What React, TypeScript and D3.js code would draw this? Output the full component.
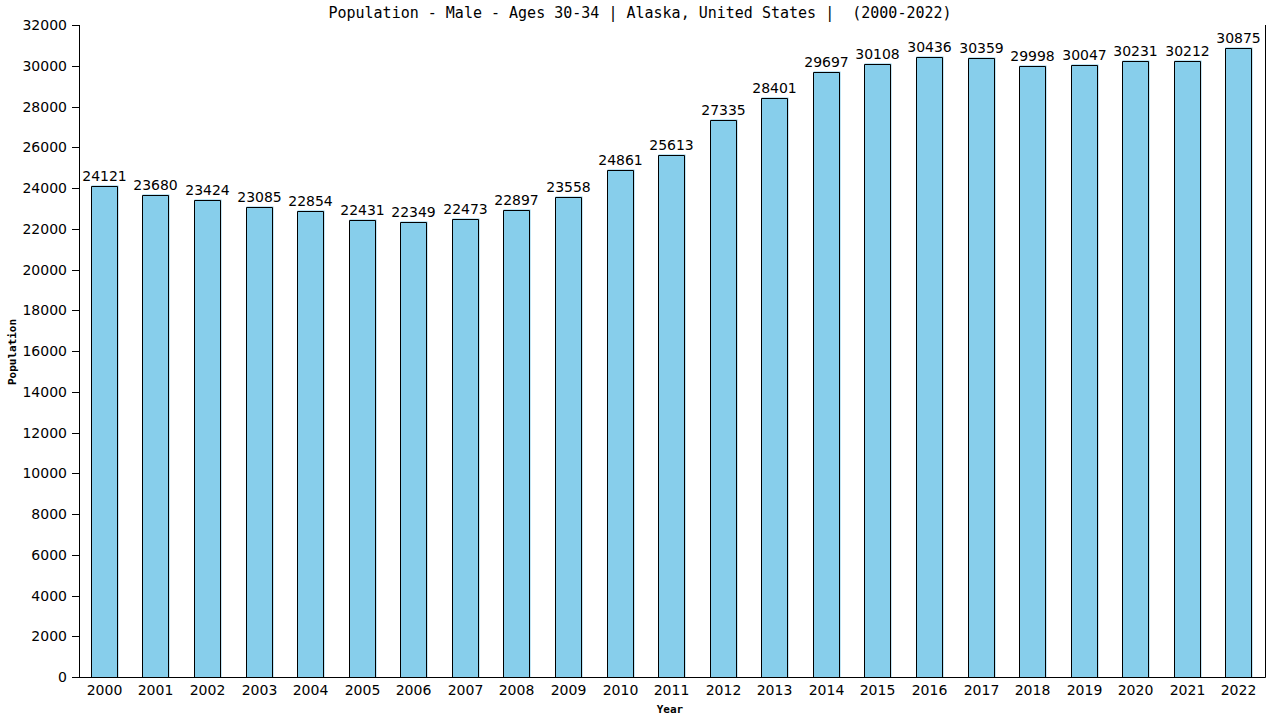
import React from 'react';
import * as d3 from 'd3';

const years = [
  '2000', '2001', '2002', '2003', '2004', '2005', '2006', '2007', '2008', '2009', '2010', '2011',
  '2012', '2013', '2014', '2015', '2016', '2017', '2018', '2019', '2020', '2021', '2022',
];
const population = [
  24121, 23680, 23424, 23085, 22854, 22431, 22349, 22473, 22897, 23558, 24861, 25613,
  27335, 28401, 29697, 30108, 30436, 30359, 29998, 30047, 30231, 30212, 30875,
];
const yTicks = d3.range(0, 32001, 2000);

const title = 'Population - Male - Ages 30-34 | Alaska, United States |  (2000-2022)';

const width = 1280;
const height = 720;
const margin = { top: 25, right: 15, bottom: 43, left: 79 };

const App: React.FC = () => {
  const x = d3.scaleBand<string>()
    .domain(years)
    .range([margin.left, width - margin.right])
    .paddingInner(0.5)
    .paddingOuter(0.25);

  const y = d3.scaleLinear()
    .domain([0, 32000])
    .range([height - margin.bottom, margin.top]);

  const y0 = y(0);
  const bw = Math.round(x.bandwidth());
  const tickFont = '"DejaVu Sans", Verdana, sans-serif';
  const monoFont = '"DejaVu Sans Mono", monospace';

  return (
    <svg
      width={width}
      height={height}
      style={{ position: 'absolute', left: 0, top: 0, background: '#fff' }}
    >
      <text
        x={640}
        y={18}
        textAnchor="middle"
        fontFamily={monoFont}
        fontSize={15}
        fill="#000"
        style={{ whiteSpace: 'pre' }}
      >
        {title}
      </text>

      {/* bars */}
      {years.map((yr, i) => {
        const bx = Math.round(x(yr) as number) - 0.5;
        const by = Math.round(y(population[i])) + 0.5;
        return (
          <g key={yr}>
            <rect x={bx} y={by - 1} width={bw + 1} height={y0 - by + 1} fill="#87ceeb" />
            <path
              d={`M${bx},${y0}V${by}H${bx + bw}V${y0}`}
              fill="none"
              stroke="#000"
              strokeWidth={1}
            />
            <text
              x={bx + bw / 2}
              y={by - 6}
              textAnchor="middle"
              fontFamily={tickFont}
              fontSize={14}
              fill="#000"
            >
              {population[i]}
            </text>
            <text
              x={bx + bw / 2}
              y={695}
              textAnchor="middle"
              fontFamily={tickFont}
              fontSize={14}
              fill="#000"
            >
              {yr}
            </text>
          </g>
        );
      })}

      {/* axes */}
      <line x1={margin.left + 0.5} x2={margin.left + 0.5} y1={margin.top} y2={y0 + 0.5} stroke="#000" />
      <line x1={margin.left} x2={width - margin.right + 0.5} y1={y0 + 0.5} y2={y0 + 0.5} stroke="#000" />
      <line
        x1={width - margin.right + 0.5}
        x2={width - margin.right + 0.5}
        y1={margin.top}
        y2={y0 + 0.5}
        stroke="#000"
      />
      {yTicks.map(t => (
        <g key={t}>
          <line
            x1={margin.left - 7}
            x2={margin.left}
            y1={Math.round(y(t)) + 0.5}
            y2={Math.round(y(t)) + 0.5}
            stroke="#000"
          />
          <text
            x={margin.left - 12}
            y={y(t) + 5}
            textAnchor="end"
            fontFamily={tickFont}
            fontSize={14}
            fill="#000"
          >
            {t}
          </text>
        </g>
      ))}

      <text
        transform={`translate(16,352) rotate(-90)`}
        textAnchor="middle"
        fontFamily={monoFont}
        fontSize={11}
        fontWeight="bold"
        fill="#000"
      >
        Population
      </text>
      <text x={670} y={713} textAnchor="middle" fontFamily={monoFont} fontSize={11} fontWeight="bold" fill="#000">
        Year
      </text>
    </svg>
  );
};

export default App;
